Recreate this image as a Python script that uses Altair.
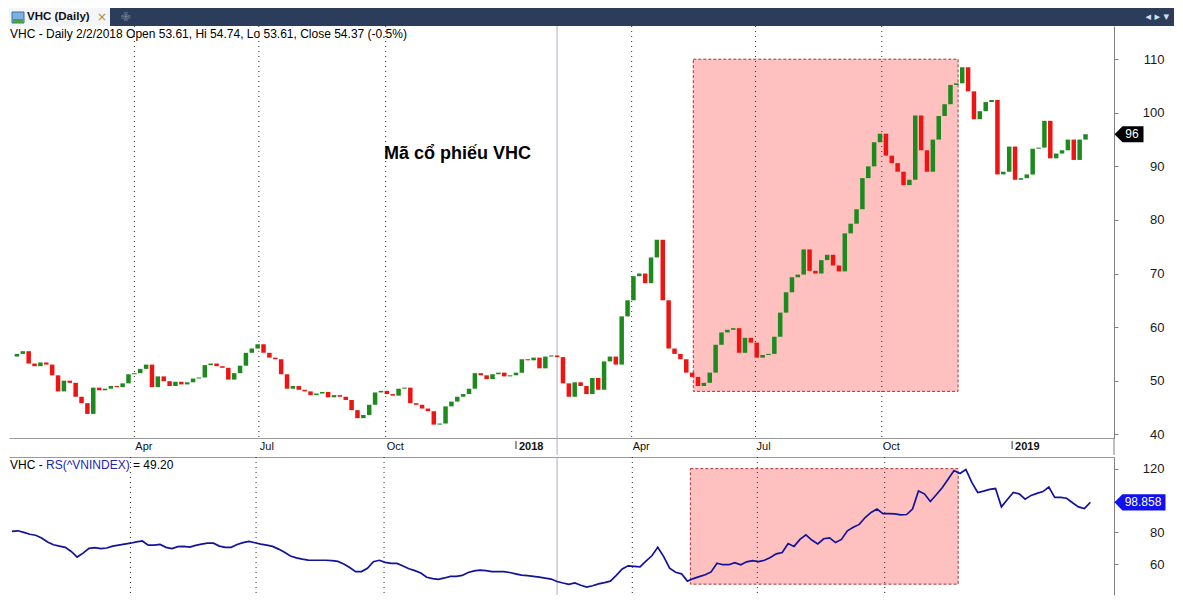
import altair as alt
import pandas as pd

# ---------------- data ----------------
first_open = 54.5
closes = [
    55.0, 55.5, 53.2, 52.7, 53.4, 53.0, 51.0, 48.0, 50.0, 49.6,
    47.0, 45.8, 43.8, 48.7, 48.2, 48.5, 49.0, 48.8, 49.5, 51.2,
    51.4, 52.2, 53.0, 48.8, 50.8, 49.9, 49.0, 49.8, 49.3, 49.7,
    50.4, 50.6, 52.9, 53.2, 52.7, 52.4, 50.2, 51.4, 52.8, 55.2,
    56.0, 56.8, 55.2, 54.3, 54.0, 51.2, 48.5, 49.0, 48.3, 48.0,
    47.3, 47.6, 47.9, 46.9, 47.3, 47.0, 46.4, 44.5, 43.0, 43.6,
    45.5, 47.8, 48.1, 47.5, 47.2, 48.5, 48.7, 45.8, 45.5, 44.8,
    44.3, 41.8, 42.0, 45.2, 46.1, 47.0, 47.5, 48.5, 51.4, 51.0,
    50.3, 51.2, 51.5, 50.8, 51.0, 51.5, 54.0, 53.8, 54.3, 52.3,
    54.5, 54.7, 54.4, 49.5, 47.0, 49.7, 49.0, 47.5, 50.5, 48.3,
    53.6, 54.5, 53.0, 62.0, 65.0, 69.5, 70.0, 68.2, 73.0, 76.3,
    65.0, 56.0, 55.0, 54.0, 51.5, 50.7, 49.0, 49.6, 51.5, 56.7,
    59.0, 59.5, 59.8, 55.2, 58.0, 57.1, 54.3, 54.8, 55.0, 58.2,
    62.7, 66.5, 69.3, 69.8, 74.5, 70.5, 70.0, 72.5, 73.5, 71.5,
    70.4, 77.5, 79.3, 82.0, 87.8, 90.0, 94.5, 96.1, 92.0, 90.6,
    89.0, 86.5, 87.5, 99.5, 93.0, 89.0, 95.0, 99.4, 101.6, 105.2,
    105.5, 108.5, 104.0, 98.8, 100.3, 102.0, 102.4, 88.5, 89.0, 93.7,
    87.5, 87.8, 88.5, 93.3, 93.5, 98.5, 91.5, 92.4, 93.0, 95.0,
    91.2, 95.0, 96.0,
]
rs_values = [
    80.6, 81.0, 80.0, 78.8, 78.2, 76.5, 74.0, 72.2, 71.4, 70.6,
    68.0, 64.5, 67.0, 70.0, 70.4, 69.8, 70.2, 71.4, 72.0, 72.6,
    73.2, 74.0, 74.6, 72.0, 72.0, 72.4, 70.6, 69.8, 71.0, 71.2,
    70.8, 71.8, 72.6, 73.2, 73.2, 71.4, 70.6, 70.6, 72.4, 73.6,
    74.3, 73.5, 72.6, 72.0, 71.2, 69.5, 67.5, 65.2, 64.0, 63.2,
    62.6, 62.5, 62.5, 62.5, 62.3, 61.8, 60.2, 58.0, 55.4, 55.4,
    57.5, 61.6, 62.5, 61.2, 60.5, 60.5, 58.9, 57.2, 56.0, 54.5,
    51.8, 51.0, 50.5, 51.4, 52.4, 52.4, 53.0, 54.8, 55.8, 56.3,
    56.0, 55.4, 55.4, 55.4, 54.8, 54.0, 53.2, 52.8, 52.4, 51.9,
    51.3, 50.7, 49.2, 48.2, 47.4, 48.3, 46.8, 45.7, 46.5, 47.7,
    48.5, 49.4, 53.0, 57.0, 59.0, 58.7, 58.3, 61.9, 65.3, 70.6,
    64.8, 57.5, 55.0, 54.0, 49.4, 51.0, 52.2, 53.4, 55.2, 60.6,
    59.7, 59.7, 61.0, 59.7, 61.5, 62.3, 61.7, 62.5, 64.3, 66.5,
    67.4, 73.0, 71.2, 75.6, 78.4, 75.2, 72.8, 76.0, 76.6, 73.6,
    75.6, 81.0, 83.2, 85.0, 89.3, 92.5, 94.6, 91.8, 91.8, 91.6,
    91.0, 91.2, 94.6, 106.0, 104.2, 99.4, 103.6, 108.0, 113.4, 118.8,
    117.0, 119.5, 111.4, 105.0, 105.9, 107.0, 107.5, 96.0, 100.6, 105.0,
    104.2, 100.8, 103.2, 104.5, 105.6, 108.4, 102.0, 102.0, 101.4, 98.6,
    96.0, 95.0, 98.858,
]
tick_pos = [20, 41.2, 62.8, 85, 104.7, 125.8, 147.3, 169.5]
tick_labels = ["Apr", "Jul", "Oct", "2018", "Apr", "Jul", "Oct", "2019"]
tick_is_year = [False, False, False, True, False, False, False, True]
price_ticks = [40, 50, 60, 70, 80, 90, 100, 110]
rs_ticks = [60, 80, 100, 120]
selected_bar = [92]
zone_price = {"x1": [115.2], "x2": [160.3], "y1": [48], "y2": [110]}
zone_rs = {"x1": [114.5], "x2": [159.7], "y1": [47.5], "y2": [120]}
last_price = [96]
last_rs = [98.858]
note_text = ["Mã cổ phiếu VHC"]
note_pos = {"k": [62.5], "p": [92.4]}
header_text = "VHC - Daily 2/2/2018 Open 53.61, Hi 54.74, Lo 53.61, Close 54.37 (-0.5%)"

# ---------------- tables ----------------
opens = [first_open] + closes[:-1]
candles = pd.DataFrame({
    "k": list(range(len(closes))),
    "open": opens,
    "close": closes,
})
candles["dir"] = ["up" if c >= o else "down" for o, c in zip(opens, closes)]
rs_df = pd.DataFrame({"k": list(range(len(rs_values))), "rs": rs_values})
ticks_df = pd.DataFrame({"pos": tick_pos, "label": tick_labels, "year": tick_is_year})
grid_df = ticks_df[~ticks_df["year"]]
year_df = ticks_df[ticks_df["year"]]
month_df = ticks_df[~ticks_df["year"]]
sel_df = pd.DataFrame({"k": selected_bar})
one = pd.DataFrame({"a": [0]})

# ---------------- layout ----------------
W = 1105
H1 = 412
H2 = 138
STRIP = 17
FONT = "Liberation Sans"
GREEN = "#1d8a1d"
RED = "#ee1414"
GRAY = "#9a9a9a"

X = alt.Scale(domain=[-0.5, 186], nice=False, zero=False)
YP = alt.Scale(domain=[39.3, 116.2], nice=False, zero=False)
YR = alt.Scale(domain=[40.7, 127.3], nice=False, zero=False)

AXX_TOP = alt.Axis(labels=False, ticks=False, grid=False, domain=True,
                   domainColor=GRAY, title=None, orient="bottom")
AXY_TOP = alt.Axis(orient="right", values=price_ticks, grid=False, tickSize=4,
                   tickColor="#808080", domainColor="#808080", labelAlign="right",
                   labelPadding=46, labelFontSize=13, labelColor="#1a1a1a",
                   labelFont=FONT, title=None)
AXX_BOT = alt.Axis(labels=False, ticks=False, grid=False, domain=True,
                   domainColor=GRAY, title=None, orient="top")
AXY_BOT = alt.Axis(orient="right", values=rs_ticks, grid=False, tickSize=4,
                   tickColor="#808080", domainColor="#808080", labelAlign="right",
                   labelPadding=46, labelFontSize=13, labelColor="#1a1a1a",
                   labelFont=FONT, title=None,
                   labelExpr="datum.value == 100 ? '' : datum.label")


def xk(field):
    return alt.X(field, type="quantitative", scale=X, axis=AXX_TOP)


def xb(field):
    return alt.X(field, type="quantitative", scale=X, axis=AXX_BOT)


def yp(field):
    return alt.Y(field, type="quantitative", scale=YP, axis=AXY_TOP)


def yr(field):
    return alt.Y(field, type="quantitative", scale=YR, axis=AXY_BOT)


# ----- top panel -----
tab_bar = alt.Chart(one).mark_rect(fill="#2c3d5b").encode(
    x=alt.value(0), x2=alt.value(1165), y=alt.value(-18), y2=alt.value(0))
tab = alt.Chart(one).mark_rect(fill="#f4f5f7").encode(
    x=alt.value(0), x2=alt.value(101), y=alt.value(-18), y2=alt.value(0))
icon = alt.Chart(one).mark_rect(fill="#7fb0e0", stroke="#3f6fa8", strokeWidth=1).encode(
    x=alt.value(3), x2=alt.value(15), y=alt.value(-14), y2=alt.value(-3))
icon2 = alt.Chart(one).mark_rect(fill="#49a04a").encode(
    x=alt.value(4), x2=alt.value(14), y=alt.value(-7), y2=alt.value(-3))
tab_text = alt.Chart(one).mark_text(text="VHC (Daily)", font=FONT, fontSize=11.5,
                                    fontWeight="bold", align="left", baseline="middle",
                                    color="#111111").encode(x=alt.value(18), y=alt.value(-9))
tab_x = alt.Chart(one).mark_text(text="×", font="DejaVu Sans", fontSize=12,
                                 align="center", baseline="middle",
                                 color="#b38a3a").encode(x=alt.value(93), y=alt.value(-9))
tab_plus = alt.Chart(one).mark_text(text="✙", font="DejaVu Sans", fontSize=12,
                                    align="center", baseline="middle",
                                    color="#6f809c").encode(x=alt.value(117), y=alt.value(-9))
tab_nav = alt.Chart(one).mark_text(text="◂   ▸   ▾", font="DejaVu Sans", fontSize=11,
                                   align="right", baseline="middle",
                                   color="#d8dee8").encode(x=alt.value(1160), y=alt.value(-9))
header = alt.Chart(one).mark_text(text=header_text, font=FONT, fontSize=12,
                                  align="left", baseline="middle",
                                  color="#000000").encode(x=alt.value(1), y=alt.value(8))

zone_top = alt.Chart(pd.DataFrame(zone_price)).mark_rect(
    fill="#ffc0c0", stroke="#a8343a", strokeDash=[3, 2], strokeWidth=1
).encode(x=xk("x1"), x2="x2", y=yp("y1"), y2="y2")

grid_top = alt.Chart(grid_df).mark_rule(strokeDash=[1, 4], color="#2a2a2a").encode(
    x=xk("pos"), y=alt.value(0), y2=alt.value(H1))

sel_top = alt.Chart(sel_df).mark_rule(color="#aab0c6", strokeWidth=1).encode(
    x=xk("k"), y=alt.value(0), y2=alt.value(H1 + STRIP))

bodies = alt.Chart(candles).mark_bar(size=4.5).encode(
    x=xk("k"), y=yp("open"), y2="close",
    color=alt.Color("dir:N", scale=alt.Scale(domain=["up", "down"], range=[GREEN, RED]),
                    legend=None))

note = alt.Chart(pd.DataFrame({"k": note_pos["k"], "p": note_pos["p"], "t": note_text})).mark_text(
    font=FONT, fontSize=18, fontWeight="bold", align="left", baseline="middle", color="#000000"
).encode(x=xk("k"), y=yp("p"), text="t:N")

month_text = alt.Chart(month_df).mark_text(font=FONT, fontSize=11, align="left",
                                           baseline="top", dx=1, color="#111111").encode(
    x=xk("pos"), y=alt.value(H1 + 3), text="label:N")
year_text = alt.Chart(year_df).mark_text(font=FONT, fontSize=11, fontWeight="bold",
                                         align="left", baseline="top", dx=3,
                                         color="#111111").encode(
    x=xk("pos"), y=alt.value(H1 + 3), text="label:N")
year_tick = alt.Chart(year_df).mark_rule(color="#333333").encode(
    x=xk("pos"), y=alt.value(H1 + 3), y2=alt.value(H1 + 11))
strip_axis = alt.Chart(one).mark_rule(color="#808080").encode(
    x=alt.value(W), y=alt.value(H1), y2=alt.value(H1 + STRIP))

tag_shape_1 = "M -1 0 L -0.45 -0.55 L 1 -0.55 L 1 0.55 L -0.45 0.55 Z"
tag_top = alt.Chart(pd.DataFrame({"v": last_price})).mark_point(
    shape=tag_shape_1, size=841, filled=True, color="#000000", opacity=1
).encode(x=alt.value(W + 15), y=yp("v"))
tag_top_text = alt.Chart(pd.DataFrame({"v": last_price})).mark_text(
    font=FONT, fontSize=12, color="#ffffff", align="center", baseline="middle"
).encode(x=alt.value(W + 18), y=yp("v"), text=alt.Text("v:Q", format="d"))

top = alt.layer(
    tab_bar, tab, icon, icon2, tab_text, tab_x, tab_plus, tab_nav, header,
    zone_top, grid_top, sel_top, bodies, note, month_text, year_text, year_tick,
    strip_axis, tag_top, tag_top_text,
).properties(width=W, height=H1)

# ----- bottom panel -----
zone_bot = alt.Chart(pd.DataFrame(zone_rs)).mark_rect(
    fill="#ffc0c0", stroke="#a8343a", strokeDash=[3, 2], strokeWidth=1
).encode(x=xb("x1"), x2="x2", y=yr("y1"), y2="y2")
grid_bot = alt.Chart(grid_df).mark_rule(strokeDash=[1, 4], color="#2a2a2a").encode(
    x=xb("pos"), y=alt.value(0), y2=alt.value(H2))
sel_bot = alt.Chart(sel_df).mark_rule(color="#aab0c6", strokeWidth=1).encode(
    x=xb("k"), y=alt.value(0), y2=alt.value(H2))
rs_line = alt.Chart(rs_df).mark_line(color="#12129a", strokeWidth=1.7).encode(
    x=xb("k"), y=yr("rs"))
rs_h1 = alt.Chart(one).mark_text(text="VHC -", font=FONT, fontSize=12, align="left",
                                 baseline="middle", color="#000000").encode(
    x=alt.value(1), y=alt.value(8))
rs_h2 = alt.Chart(one).mark_text(text="RS(^VNINDEX)", font=FONT, fontSize=12, align="left",
                                 baseline="middle", color="#2424b0").encode(
    x=alt.value(37), y=alt.value(8))
rs_h3 = alt.Chart(one).mark_text(text="= 49.20", font=FONT, fontSize=12, align="left",
                                 baseline="middle", color="#000000").encode(
    x=alt.value(124), y=alt.value(8))
tag_shape_2 = "M -1 0 L -0.69 -0.32 L 1 -0.32 L 1 0.32 L -0.69 0.32 Z"
tag_bot = alt.Chart(pd.DataFrame({"v": last_rs})).mark_point(
    shape=tag_shape_2, size=2601, filled=True, color="#1010f0", opacity=1
).encode(x=alt.value(W + 26), y=yr("v"))
tag_bot_text = alt.Chart(pd.DataFrame({"v": last_rs})).mark_text(
    font=FONT, fontSize=12, color="#ffffff", align="center", baseline="middle"
).encode(x=alt.value(W + 29), y=yr("v"), text=alt.Text("v:Q", format=".3f"))

bottom = alt.layer(
    zone_bot, grid_bot, sel_bot, rs_line, rs_h1, rs_h2, rs_h3, tag_bot, tag_bot_text
).properties(width=W, height=H2)

chart = alt.vconcat(top, bottom, spacing=0).properties(
    padding=0, background="#ffffff"
).configure_view(stroke=None).configure_text(font=FONT)

chart.save("out.html", embed_options={"renderer": "svg", "actions": False})
